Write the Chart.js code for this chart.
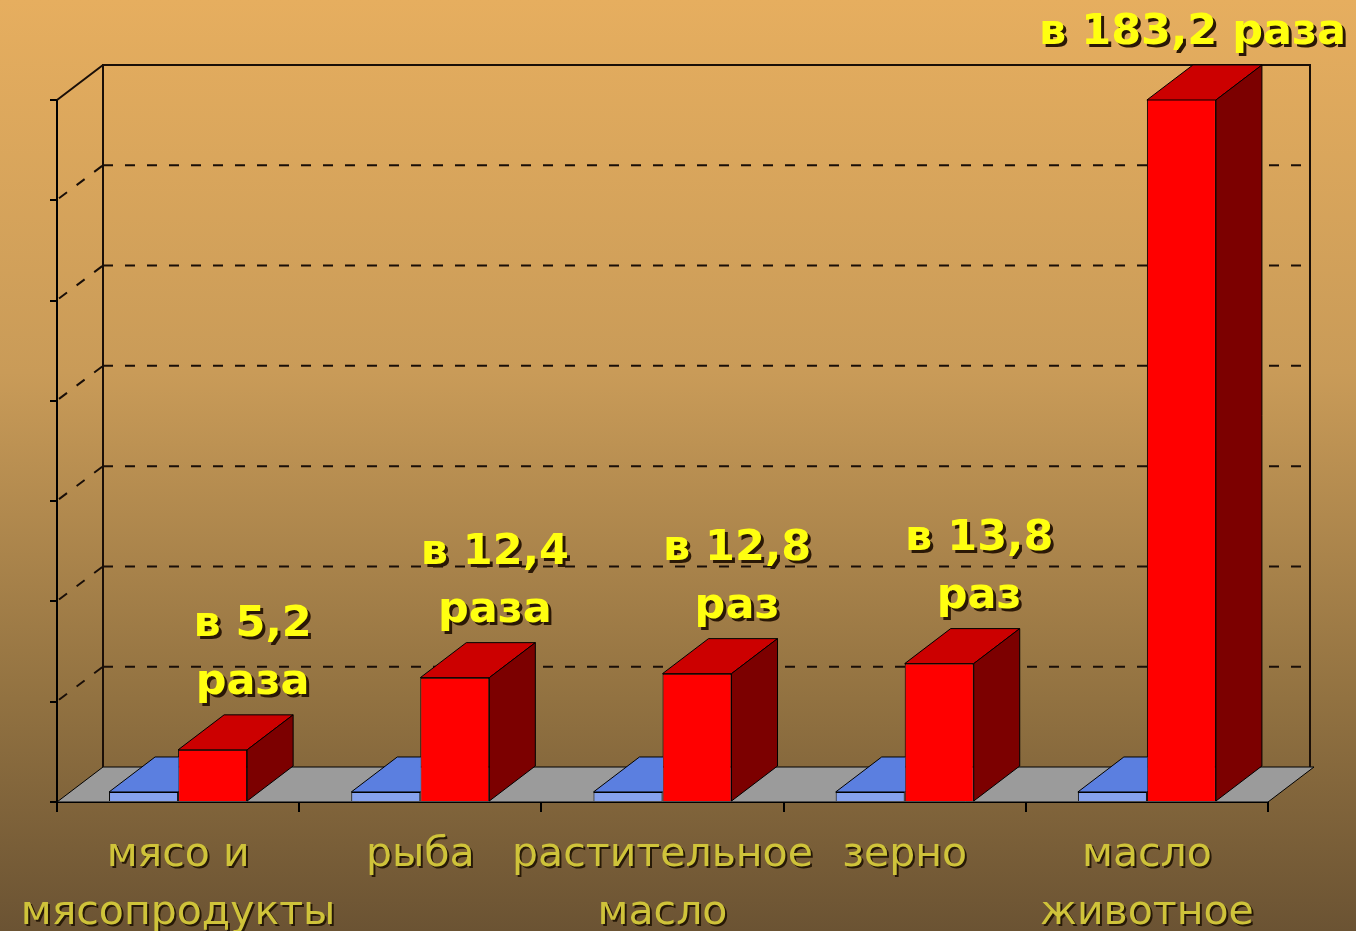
<!DOCTYPE html>
<html>
<head>
<meta charset="utf-8">
<script src="https://cdn.jsdelivr.net/npm/chart.js@4.4.1/dist/chart.umd.min.js"></script>
<style>
  html, body { margin: 0; padding: 0; background: #a07c48; }
  canvas { display: block; }
</style>
</head>
<body>
<canvas id="c" width="1356" height="931"></canvas>
<script>
// ---- data ----
const categories = [
  ["мясо и", "мясопродукты"],
  "рыба",
  ["растительное", "масло"],
  "зерно",
  ["масло", "животное"]
];
const baseValues = [1, 1, 1, 1, 1];            // базовый уровень (синие столбцы)
const ratioValues = [5.2, 12.4, 12.8, 13.8, 183.2]; // во сколько раз (красные столбцы)
const ratioLabels = [
  ["в 5,2", "раза"],
  ["в 12,4", "раза"],
  ["в 12,8", "раз"],
  ["в 13,8", "раз"],
  ["в 183,2 раза"]
];
const yMin = 0, yMax = 70, yStep = 10;

// ---- 3D settings ----
const DX = 46, DY = 35;
const faces = [
  { front: '#86a2ee', top: '#5b7fe0', side: '#3b5cb6' },
  { front: '#ff0000', top: '#cc0000', side: '#7c0000' }
];

class ShadowCategory extends Chart.CategoryScale {
  drawLabels(area) {
    const c = this.ctx;
    c.save();
    c.shadowColor = 'rgba(35,22,5,0.95)';
    c.shadowOffsetX = 2; c.shadowOffsetY = 2; c.shadowBlur = 0;
    super.drawLabels(area);
    c.restore();
  }
}
ShadowCategory.id = 'shadowCategory';
ShadowCategory.defaults = Chart.CategoryScale.defaults;
Chart.register(ShadowCategory);

function poly(ctx, pts, fill) {
  ctx.beginPath();
  ctx.moveTo(pts[0][0], pts[0][1]);
  for (let i = 1; i < pts.length; i++) ctx.lineTo(pts[i][0], pts[i][1]);
  ctx.closePath();
  ctx.fillStyle = fill;
  ctx.fill();
  ctx.strokeStyle = '#000';
  ctx.lineWidth = 1;
  ctx.stroke();
}

const scene = {
  id: 'scene3d',
  beforeDraw(chart) {
    const { ctx, width, height } = chart;
    const g = ctx.createLinearGradient(0, 0, 0, height);
    g.addColorStop(0, '#e6ae5f');
    g.addColorStop(0.4, '#c99b58');
    g.addColorStop(0.75, '#927241');
    g.addColorStop(1, '#6b5333');
    ctx.save();
    ctx.fillStyle = g;
    ctx.fillRect(0, 0, width, height);
    ctx.restore();
  },
  beforeDatasetsDraw(chart) {
    const { ctx, chartArea: a, scales } = chart;
    const y = scales.y;
    ctx.save();
    // floor
    poly(ctx, [[a.left, a.bottom], [a.right, a.bottom], [a.right + DX, a.bottom - DY], [a.left + DX, a.bottom - DY]], '#9b9b9b');
    ctx.strokeStyle = '#1a0f08';
    ctx.lineWidth = 2;
    // back wall frame
    ctx.beginPath();
    ctx.moveTo(a.left + DX, a.bottom - DY);
    ctx.lineTo(a.left + DX, a.top - DY);
    ctx.lineTo(a.right + DX - 4, a.top - DY);
    ctx.lineTo(a.right + DX - 4, a.bottom - DY);
    ctx.moveTo(a.left, a.top);
    ctx.lineTo(a.left + DX, a.top - DY);
    ctx.stroke();
    // dashed gridlines on back wall and side wall
    ctx.setLineDash([10, 12]);
    for (let v = yMin + yStep; v < yMax; v += yStep) {
      const py = y.getPixelForValue(v);
      ctx.beginPath();
      ctx.moveTo(a.left + DX, py - DY);
      ctx.lineTo(a.right + DX - 4, py - DY);
      ctx.moveTo(a.left + 2, py - 2);
      ctx.lineTo(a.left + DX, py - DY);
      ctx.stroke();
    }
    ctx.restore();
  },
  afterDatasetDraw(chart, args) {
    const { ctx, chartArea: a } = chart;
    const f = faces[args.index];
    const isBase = args.index === 0;
    args.meta.data.forEach(el => {
      const p = el.getProps(['x', 'y', 'base', 'width'], true);
      const l = p.x - p.width / 2, r = p.x + p.width / 2;
      const t = Math.max(p.y, a.top), b = p.base;
      ctx.save();
      if (isBase) {
        // the neighbouring red bar hides everything to the right of this bar
        ctx.beginPath();
        ctx.rect(0, 0, r + 0.5, chart.height);
        ctx.clip();
      }
      poly(ctx, [[l, t], [r, t], [r + DX, t - DY], [l + DX, t - DY]], f.top);
      if (!isBase) poly(ctx, [[r, t], [r + DX, t - DY], [r + DX, b - DY], [r, b]], f.side);
      ctx.restore();
    });
  },
  afterDraw(chart) {
    const { ctx, chartArea: a, width } = chart;
    const meta = chart.getDatasetMeta(1);
    ctx.save();
    ctx.font = 'bold 43px "DejaVu Sans"';
    ctx.textAlign = 'center';
    ctx.textBaseline = 'middle';
    meta.data.forEach((el, i) => {
      const p = el.getProps(['x', 'y'], true);
      const topBack = Math.max(p.y, a.top) - DY;
      const lines = ratioLabels[i];
      let cx = p.x + 40;
      const w = Math.max(...lines.map(s => ctx.measureText(s).width));
      if (cx + w / 2 > width - 10) cx = width - 10 - w / 2;
      lines.forEach((s, k) => {
        const cy = topBack - 32 - (lines.length - 1 - k) * 58;
        ctx.fillStyle = '#2a1806';
        ctx.fillText(s, cx + 3, cy + 3);
        ctx.fillStyle = '#ffff10';
        ctx.fillText(s, cx, cy);
      });
    });
    ctx.restore();
  }
};

new Chart(document.getElementById('c'), {
  type: 'bar',
  data: {
    labels: categories,
    datasets: [
      { label: 'база', data: baseValues, backgroundColor: faces[0].front, borderColor: '#000', borderWidth: 1 },
      { label: 'рост', data: ratioValues, backgroundColor: faces[1].front, borderColor: '#000', borderWidth: 1 }
    ]
  },
  options: {
    responsive: false,
    animation: false,
    devicePixelRatio: 1,
    layout: { padding: { top: 100, right: 88, left: 0, bottom: 0 } },
    datasets: { bar: { barPercentage: 1, categoryPercentage: 0.57 } },
    plugins: { legend: { display: false }, tooltip: { enabled: false } },
    scales: {
      x: {
        type: 'shadowCategory',
        grid: { offset: true, drawOnChartArea: false, drawTicks: true, tickLength: 10, color: '#000', lineWidth: 2 },
        border: { color: '#000', width: 2 },
        ticks: {
          color: '#cfc33a',
          font: { family: 'DejaVu Sans', size: 41, lineHeight: 1.42 },
          padding: 14, maxRotation: 0, minRotation: 0, autoSkip: false
        },
        afterFit(s) { s.height = 129; }
      },
      y: {
        min: yMin, max: yMax,
        grid: { drawOnChartArea: false, drawTicks: true, tickLength: 7, color: '#000', lineWidth: 2 },
        border: { color: '#000', width: 2 },
        ticks: { stepSize: yStep, display: false },
        afterFit(s) { s.width = 57; }
      }
    }
  },
  plugins: [scene]
});
</script>
</body>
</html>
